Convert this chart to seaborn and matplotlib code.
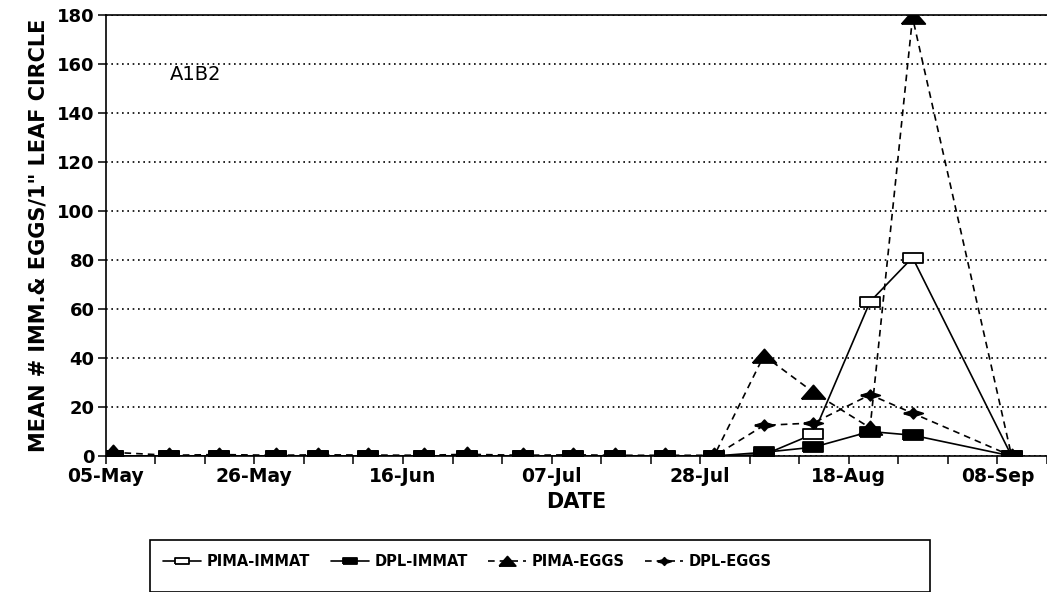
import matplotlib
matplotlib.use("Agg")
import matplotlib.pyplot as plt
from matplotlib.patches import Rectangle
import seaborn as sns
import pandas as pd

# ---- data ----
dates = ["1991-05-06", "1991-05-14", "1991-05-21", "1991-05-29", "1991-06-04",
         "1991-06-11", "1991-06-19", "1991-06-25", "1991-07-03", "1991-07-10",
         "1991-07-16", "1991-07-23", "1991-07-30", "1991-08-06", "1991-08-13",
         "1991-08-21", "1991-08-27", "1991-09-10"]
pima_immat = [0, 0, 0, 0, 0, 0, 0, 0, 0, 0, 0, 0, 0, 0.5, 9, 63, 81, 0]
dpl_immat = [0, 0, 0, 0, 0, 0, 0, 0, 0, 0, 0, 0, 0, 1.5, 3.6, 10, 8.5, 0]
pima_eggs = [1.5, 0.3, 0.6, 0.3, 0.5, 0.4, 0.3, 0.7, 0.3, 0.5, 0.3, 0.3, 0.3, 41, 26, 11.5, 179, 0]
dpl_eggs = [0, 0, 0, 0, 0, 0, 0, 0, 0, 0, 0, 0, 0, 12.5, 13.5, 25, 17.5, 0]
series_names = ["PIMA-IMMAT", "DPL-IMMAT", "PIMA-EGGS", "DPL-EGGS"]
tick_dates = ["1991-05-05", "1991-05-26", "1991-06-16", "1991-07-07",
              "1991-07-28", "1991-08-18", "1991-09-08"]
y_ticks = [0, 20, 40, 60, 80, 100, 120, 140, 160, 180]
panel_label = "A1B2"

values = [pima_immat, dpl_immat, pima_eggs, dpl_eggs]
df = pd.concat([
    pd.DataFrame({"date": pd.to_datetime(dates), "value": v, "series": n})
    for n, v in zip(series_names, values)
], ignore_index=True)

sns.set_style("ticks")
plt.rcParams["font.family"] = ["DejaVu Sans"]
plt.rcParams["font.weight"] = "bold"
plt.rcParams["text.color"] = "black"
plt.rcParams["axes.labelcolor"] = "black"
plt.rcParams["xtick.color"] = "black"
plt.rcParams["ytick.color"] = "black"

fig = plt.figure(figsize=(10.47, 5.92), dpi=100)
ax = fig.add_axes([0.101, 0.2297, 0.899, 0.745])

rect_m = [(-1, -0.45), (1, -0.45), (1, 0.45), (-1, 0.45), (-1, -0.45)]
tri_m = [(-1, -0.55), (1, -0.55), (0, 0.6), (-1, -0.55)]
star_m = [(-1, 0), (-0.3, 0.22), (0, 0.55), (0.3, 0.22), (1, 0),
          (0.3, -0.22), (0, -0.55), (-0.3, -0.22), (-1, 0)]

styles = {
    "PIMA-IMMAT": dict(marker=rect_m, ms=15, mfc="white", ls="-"),
    "DPL-IMMAT": dict(marker=rect_m, ms=15, mfc="black", ls="-"),
    "PIMA-EGGS": dict(marker=tri_m, ms=17, mfc="black", ls=(0, (4, 3))),
    "DPL-EGGS": dict(marker=star_m, ms=14, mfc="black", ls=(0, (4, 3))),
}

for name in series_names:
    st = styles[name]
    sns.lineplot(data=df[df["series"] == name], x="date", y="value", ax=ax,
                 color="black", lw=1.2, linestyle=st["ls"], marker=st["marker"],
                 markersize=st["ms"], markerfacecolor=st["mfc"],
                 markeredgecolor="black", markeredgewidth=1.3, label=name,
                 legend=False)

ax.set_ylim(0, 180)
ax.set_xlim(pd.Timestamp("1991-05-05"), pd.Timestamp("1991-09-15"))
ax.set_yticks(y_ticks)
tks = pd.to_datetime(tick_dates)
ax.set_xticks(tks)
ax.set_xticklabels([t.strftime("%d-%b") for t in tks])
ax.set_xticks(pd.date_range("1991-05-05", "1991-09-15", freq="7D"), minor=True)

ax.yaxis.grid(True, linestyle=(0, (1, 2.2)), color="black", lw=1.2)
ax.xaxis.grid(False)
for s in ["left", "bottom", "top"]:
    ax.spines[s].set_color("black")
    ax.spines[s].set_linewidth(1.2)
ax.spines["right"].set_visible(False)

ax.tick_params(axis="both", which="both", direction="out", length=6,
               width=1.1, color="black", labelcolor="black")
ax.tick_params(axis="x", pad=2, labelsize=13.5)
ax.tick_params(axis="y", pad=2, labelsize=13)
for lab in ax.get_xticklabels() + ax.get_yticklabels():
    lab.set_fontweight("bold")

ax.set_xlabel("DATE", fontsize=15, fontweight="bold", labelpad=4, color="black")
ax.set_ylabel('MEAN # IMM.& EGGS/1" LEAF CIRCLE', fontsize=15,
              fontweight="bold", labelpad=6, color="black")

ax.text(0.068, 0.865, panel_label, transform=ax.transAxes, fontsize=14,
        fontweight="normal", va="center", ha="left", color="black")

handles, labels = ax.get_legend_handles_labels()
leg = fig.legend(handles, labels, loc="center left", ncol=4,
                 bbox_to_anchor=(150 / 1047, 1 - 562 / 592), frameon=False,
                 prop={"weight": "bold", "size": 10.5}, handlelength=2.6,
                 handletextpad=0.4, columnspacing=1.4, markerscale=0.7)
for t in leg.get_texts():
    t.set_color("black")
fig.add_artist(Rectangle((150 / 1047, 0.0), 780 / 1047, 52 / 592,
                         transform=fig.transFigure, fill=False,
                         edgecolor="black", lw=1.2))

fig.savefig("out.png", dpi=100)
